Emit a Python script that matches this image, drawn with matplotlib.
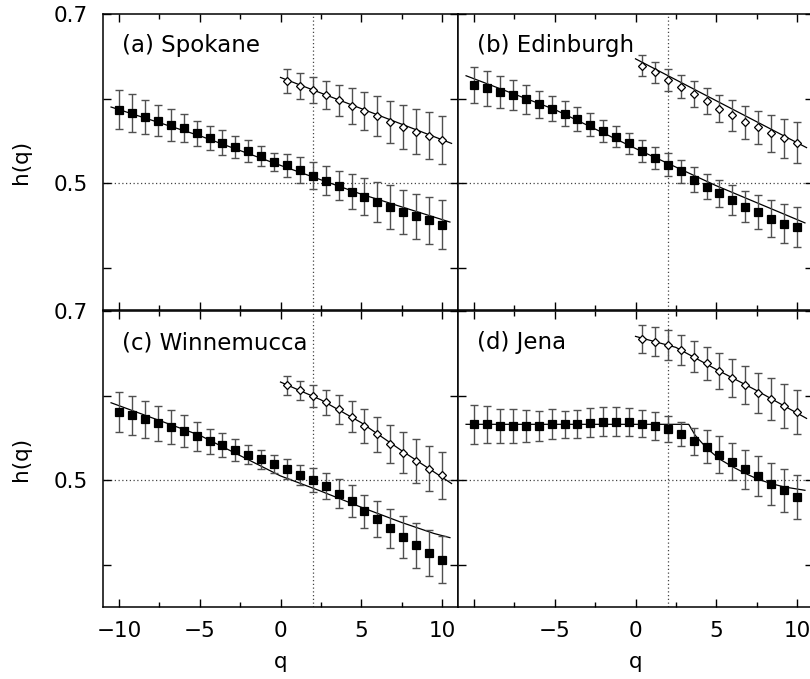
import matplotlib
matplotlib.use("Agg")
import matplotlib.pyplot as plt
from matplotlib.ticker import FixedLocator, NullFormatter

plt.rcParams['font.family'] = ['DejaVu Sans']

# ---------------- data ----------------
q_sq = [-10.0, -9.2, -8.4, -7.6, -6.8, -6.0, -5.2, -4.4, -3.6, -2.8, -2.0, -1.2, -0.4,
        0.4, 1.2, 2.0, 2.8, 3.6, 4.4, 5.2, 6.0, 6.8, 7.6, 8.4, 9.2, 10.0]
q_di = [0.4, 1.2, 2.0, 2.8, 3.6, 4.4, 5.2, 6.0, 6.8, 7.6, 8.4, 9.2, 10.0]

panel_titles = ["(a) Spokane", "(b) Edinburgh", "(c) Winnemucca", "(d) Jena"]

# (a) Spokane
a_sq = [0.587, 0.583, 0.578, 0.574, 0.569, 0.565, 0.559, 0.553, 0.548, 0.543, 0.538, 0.532, 0.525,
        0.521, 0.515, 0.509, 0.503, 0.497, 0.490, 0.484, 0.478, 0.472, 0.466, 0.461, 0.456, 0.451]
a_sq_err = [0.0230, 0.0222, 0.0202, 0.0186, 0.0186, 0.0166, 0.0150, 0.0143, 0.0143, 0.0127, 0.0127, 0.0119, 0.0107,
            0.0139, 0.0154, 0.0158, 0.0170, 0.0170, 0.0210, 0.0222, 0.0238, 0.0257, 0.0261, 0.0265, 0.0277, 0.0289]
a_di = [0.621, 0.615, 0.610, 0.604, 0.598, 0.591, 0.585, 0.579, 0.572, 0.566, 0.561, 0.556, 0.551]
a_di_err = [0.0143, 0.0154, 0.0158, 0.0166, 0.0186, 0.0210, 0.0222, 0.0238, 0.0250, 0.0261, 0.0269, 0.0277, 0.0289]
a_fit_sq_q = [-10.5, -5.0, 0.0, 5.0, 10.5]
a_fit_sq = [0.590, 0.556, 0.521, 0.487, 0.454]
a_fit_di_q = [0.0, 10.6]
a_fit_di = [0.625, 0.547]

# (b) Edinburgh
b_sq = [0.616, 0.612, 0.608, 0.604, 0.599, 0.593, 0.588, 0.582, 0.576, 0.569, 0.562, 0.555, 0.547,
        0.538, 0.530, 0.522, 0.514, 0.504, 0.496, 0.488, 0.480, 0.472, 0.466, 0.458, 0.452, 0.448]
b_sq_err = [0.0210, 0.0206, 0.0190, 0.0178, 0.0170, 0.0162, 0.0150, 0.0150, 0.0139, 0.0135, 0.0131, 0.0127, 0.0127,
            0.0127, 0.0127, 0.0131, 0.0139, 0.0147, 0.0150, 0.0162, 0.0182, 0.0182, 0.0202, 0.0218, 0.0230, 0.0238]
b_di = [0.639, 0.631, 0.622, 0.614, 0.605, 0.597, 0.588, 0.580, 0.572, 0.566, 0.559, 0.553, 0.548]
b_di_err = [0.0123, 0.0127, 0.0131, 0.0139, 0.0154, 0.0158, 0.0162, 0.0178, 0.0194, 0.0198, 0.0218, 0.0230, 0.0238]
b_fit_sq_q = [-10.5, -5.0, 0.0, 5.0, 10.5]
b_fit_sq = [0.627, 0.587, 0.541, 0.497, 0.453]
b_fit_di_q = [0.0, 10.6]
b_fit_di = [0.647, 0.542]

# (c) Winnemucca
c_sq = [0.581, 0.5765, 0.572, 0.567, 0.563, 0.558, 0.552, 0.546, 0.541, 0.5355, 0.530, 0.5245, 0.519,
        0.513, 0.506, 0.500, 0.493, 0.484, 0.4755, 0.4633, 0.454, 0.443, 0.433, 0.423, 0.414, 0.406]
c_sq_err = [0.0237, 0.0229, 0.0217, 0.0205, 0.0197, 0.0189, 0.0170, 0.0150, 0.0142, 0.0130, 0.0114, 0.0110, 0.0107,
            0.0118, 0.0122, 0.0142, 0.0154, 0.0174, 0.0185, 0.0197, 0.0217, 0.0233, 0.0249, 0.0264, 0.0272, 0.0280]
c_di = [0.612, 0.606, 0.5994, 0.592, 0.5836, 0.575, 0.564, 0.554, 0.5423, 0.5325, 0.5225, 0.5134, 0.5055]
c_di_err = [0.0110, 0.0118, 0.0134, 0.0146, 0.0174, 0.0185, 0.0201, 0.0205, 0.0225, 0.0241, 0.0256, 0.0264, 0.0276]
c_fit_sq_q = [-10.5, -5.0, 0.0, 2.5, 5.0, 7.5, 9.5, 10.5]
c_fit_sq = [0.5915, 0.553, 0.505, 0.487, 0.468, 0.450, 0.437, 0.432]
c_fit_di_q = [0.0, 2.5, 5.0, 7.5, 10.6]
c_fit_di = [0.616, 0.595, 0.568, 0.535, 0.496]

# (d) Jena
d_sq = [0.5659, 0.5659, 0.5639, 0.5639, 0.5639, 0.5639, 0.5659, 0.5659, 0.5667, 0.5679, 0.569, 0.569, 0.569,
        0.5667, 0.5639, 0.560, 0.554, 0.546, 0.5395, 0.530, 0.5217, 0.5126, 0.5047, 0.4957, 0.4878, 0.480]
d_sq_err = [0.0229, 0.0221, 0.0201, 0.0197, 0.0185, 0.0174, 0.0178, 0.0162, 0.0166, 0.0170, 0.0170, 0.0170, 0.0166,
            0.0162, 0.0170, 0.0154, 0.0142, 0.0158, 0.0197, 0.0217, 0.0221, 0.0225, 0.0237, 0.0249, 0.0256, 0.0264]
d_di = [0.6665, 0.6637, 0.6594, 0.6538, 0.646, 0.638, 0.629, 0.621, 0.612, 0.6034, 0.5955, 0.5876, 0.5805]
d_di_err = [0.0166, 0.0170, 0.0178, 0.0178, 0.0185, 0.0193, 0.0209, 0.0221, 0.0225, 0.0237, 0.0249, 0.0264, 0.0264]
d_fit_sq_q = [-10.5, 3.3, 3.7, 4.4, 5.2, 6.0, 6.8, 7.6, 8.4, 9.2, 10.5]
d_fit_sq = [0.566, 0.566, 0.553, 0.538, 0.525, 0.516, 0.508, 0.501, 0.496, 0.492, 0.488]
d_fit_di_q = [0.0, 2.5, 5.0, 7.5, 10.6]
d_fit_di = [0.670, 0.657, 0.631, 0.606, 0.573]

q_cross = 2.0
h_ref = 0.5
x_limits = (-11.0, 11.0)
y_limits = (0.35, 0.7)
x_major = [-10, -5, 0, 5, 10]
x_minor = [-7.5, -2.5, 2.5, 7.5]
y_major = [0.4, 0.5, 0.6, 0.7]
y_labels = ["", "0.5", "", "0.7"]

panels = [
    (a_sq, a_sq_err, a_di, a_di_err, a_fit_sq_q, a_fit_sq, a_fit_di_q, a_fit_di),
    (b_sq, b_sq_err, b_di, b_di_err, b_fit_sq_q, b_fit_sq, b_fit_di_q, b_fit_di),
    (c_sq, c_sq_err, c_di, c_di_err, c_fit_sq_q, c_fit_sq, c_fit_di_q, c_fit_di),
    (d_sq, d_sq_err, d_di, d_di_err, d_fit_sq_q, d_fit_sq, d_fit_di_q, d_fit_di),
]

# ---------------- figure ----------------
W, H = 810, 679
fig = plt.figure(figsize=(W / 100, H / 100), dpi=100)

ax_w = 355 / W
ax_h = 296 / H
lefts = [103 / W, 458 / W]
bottoms = [1 - 310 / H, 1 - 607 / H]

FS = 15.5
for idx, (sq, sq_e, di, di_e, fq, fv, gq, gv) in enumerate(panels):
    row, col = divmod(idx, 2)
    ax = fig.add_axes([lefts[col], bottoms[row], ax_w, ax_h])
    ax.set_xlim(*x_limits)
    ax.set_ylim(*y_limits)

    ax.axvline(q_cross, color='#444444', lw=0.9, ls=(0, (1, 2)), zorder=1)
    ax.axhline(h_ref, color='#444444', lw=0.9, ls=(0, (1, 2)), zorder=1)

    ax.plot(fq, fv, color='black', lw=0.9, zorder=2)
    ax.plot(gq, gv, color='black', lw=0.9, zorder=2)

    for y, e, mk, ms, mfc in ((sq, sq_e, 's', 6.3, 'black'), (di, di_e, 'D', 4.4, 'white')):
        qq = q_sq if mk == 's' else q_di
        eb = ax.errorbar(qq, y, yerr=e, fmt='none', ecolor='#505050', elinewidth=1.0,
                         capsize=3.2, capthick=1.0, zorder=3)
        for cl in eb[1]:
            cl.set_color('black')
        ax.plot(qq, y, ls='none', marker=mk, ms=ms, mfc=mfc, mec='black', mew=0.9, zorder=4)

    ax.text(0.054, 0.893, panel_titles[idx], transform=ax.transAxes, fontsize=FS + 1,
            ha='left', va='center')

    ax.xaxis.set_major_locator(FixedLocator(x_major))
    ax.xaxis.set_minor_locator(FixedLocator(x_minor))
    ax.yaxis.set_major_locator(FixedLocator(y_major))
    ax.tick_params(which='both', direction='in', top=True, right=True, width=1.0, labelsize=FS)
    ax.tick_params(which='major', length=6)
    ax.tick_params(which='minor', length=3.5)
    ax.tick_params(axis='y', pad=11)
    ax.tick_params(axis='x', pad=10)
    for s in ax.spines.values():
        s.set_linewidth(1.1)

    if col == 0:
        ax.set_yticklabels(y_labels)
        ax.set_ylabel("h(q)", fontsize=FS, labelpad=16)
    else:
        ax.yaxis.set_major_formatter(NullFormatter())
    if row == 1:
        if col == 0:
            ax.set_xticklabels(["\u221210", "\u22125", "0", "5", "10"])
        else:
            ax.set_xticklabels(["", "\u22125", "0", "5", "10"])
        ax.set_xlabel("q", fontsize=FS, labelpad=8)
    else:
        ax.xaxis.set_major_formatter(NullFormatter())

fig.savefig("out.png", dpi=100)
